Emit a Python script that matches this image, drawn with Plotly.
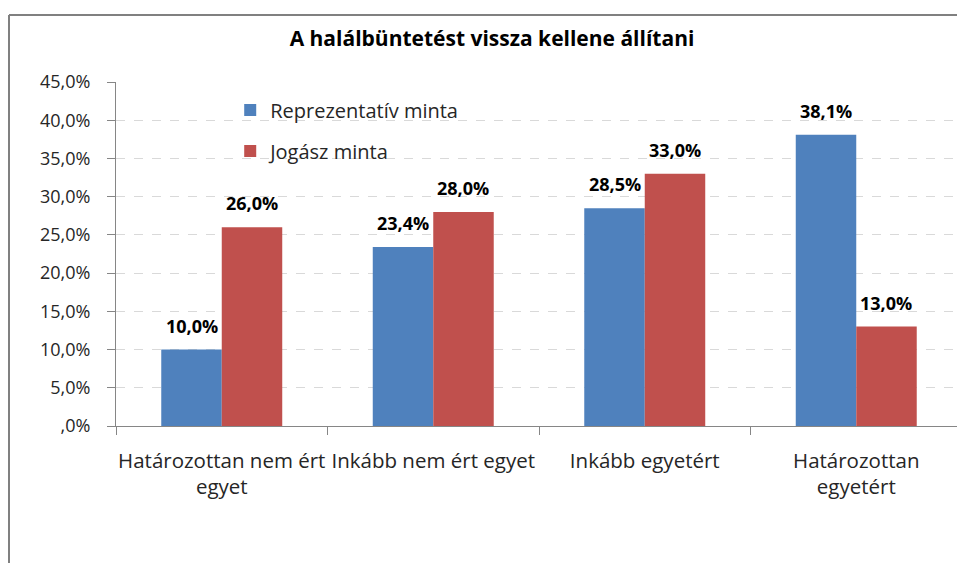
import plotly.graph_objects as go

categories = ["Határozottan nem ért<br>egyet", "Inkább nem ért egyet", "Inkább egyetért", "Határozottan<br>egyetért"]
series_names = ["Reprezentatív minta", "Jogász minta"]
reprezentativ = [10.0, 23.4, 28.5, 38.1]
jogasz = [26.0, 28.0, 33.0, 13.0]
ytick_vals = [0, 5, 10, 15, 20, 25, 30, 35, 40, 45]
ytick_text = [",0%", "5,0%", "10,0%", "15,0%", "20,0%", "25,0%", "30,0%", "35,0%", "40,0%", "45,0%"]
title = "A halálbüntetést vissza kellene állítani"

FONT = "Open Sans"
colors = ["#4F81BD", "#C0504D"]

W, H = 965, 563
ML, MR, MT, MB = 108, 11, 74, 145
BARGAP = 0.428
plot_w = W - ML - MR
bar_px = plot_w / len(categories) * (1 - BARGAP) / 2

fig = go.Figure()
series = [(series_names[0], reprezentativ, colors[0], "a", -1), (series_names[1], jogasz, colors[1], "b", 1)]
for name, vals, col, grp, side in series:
    fig.add_trace(go.Bar(
        x=categories, y=vals, name=name, marker=dict(color=col, line=dict(width=0)),
        legendgroup=grp,
    ))
    for c, v in zip(categories, vals):
        fig.add_annotation(x=c, y=v, xref="x", yref="y", text="<b>" + f"{v:.1f}".replace(".", ",") + "%</b>",
                           showarrow=False, yanchor="bottom", xanchor="center", xshift=side * bar_px / 2,
                           yshift=10, font=dict(family=FONT, size=18, color="#000000"))

fig.update_layout(
    width=W, height=H,
    separators=",.",
    barmode="group", bargap=BARGAP, bargroupgap=0,
    paper_bgcolor="white", plot_bgcolor="white",
    margin=dict(l=ML, r=MR, t=MT, b=MB, autoexpand=False),
    font=dict(family=FONT, size=19, color="#262626"),
    title=dict(text="<b>" + title + "</b>", x=484 / W, xanchor="center", y=1 - 31 / H, yanchor="middle",
               font=dict(family=FONT, size=21, color="#000000")),
    showlegend=True,
    legend=dict(x=0.135, y=0.975, xanchor="left", yanchor="top", bgcolor="rgba(0,0,0,0)",
                font=dict(family=FONT, size=20, color="#262626"), tracegroupgap=12, itemwidth=30),
    xaxis=dict(showline=True, linecolor="#868686", linewidth=1, ticks="outside", tickson="boundaries",
               ticklen=8, tickcolor="#868686", showgrid=False, ticklabelstandoff=16, tickangle=0,
               automargin=False, tickfont=dict(family=FONT, size=20.5, color="#262626")),
    yaxis=dict(range=[0, 45], tickvals=ytick_vals, ticktext=ytick_text, showline=True, linecolor="#868686",
               linewidth=1, ticks="outside", ticklen=8, tickcolor="#868686", showgrid=True, automargin=False,
               gridcolor="#D9D9D9", griddash="dash", zeroline=False, ticklabelstandoff=13,
               tickfont=dict(family=FONT, size=18, color="#262626")),
)

# outer frame (partial border as in the original)
fx = (1 - ML) / plot_w
fy = (H - MB - 7) / (H - MT - MB)
fig.add_shape(type="line", xref="paper", yref="paper", x0=fx, y0=-0.5, x1=fx, y1=fy,
              line=dict(color="#808080", width=2))
fig.add_shape(type="line", xref="paper", yref="paper", x0=fx, y0=fy, x1=1.1, y1=fy,
              line=dict(color="#808080", width=2))

fig.write_html("out.html")
